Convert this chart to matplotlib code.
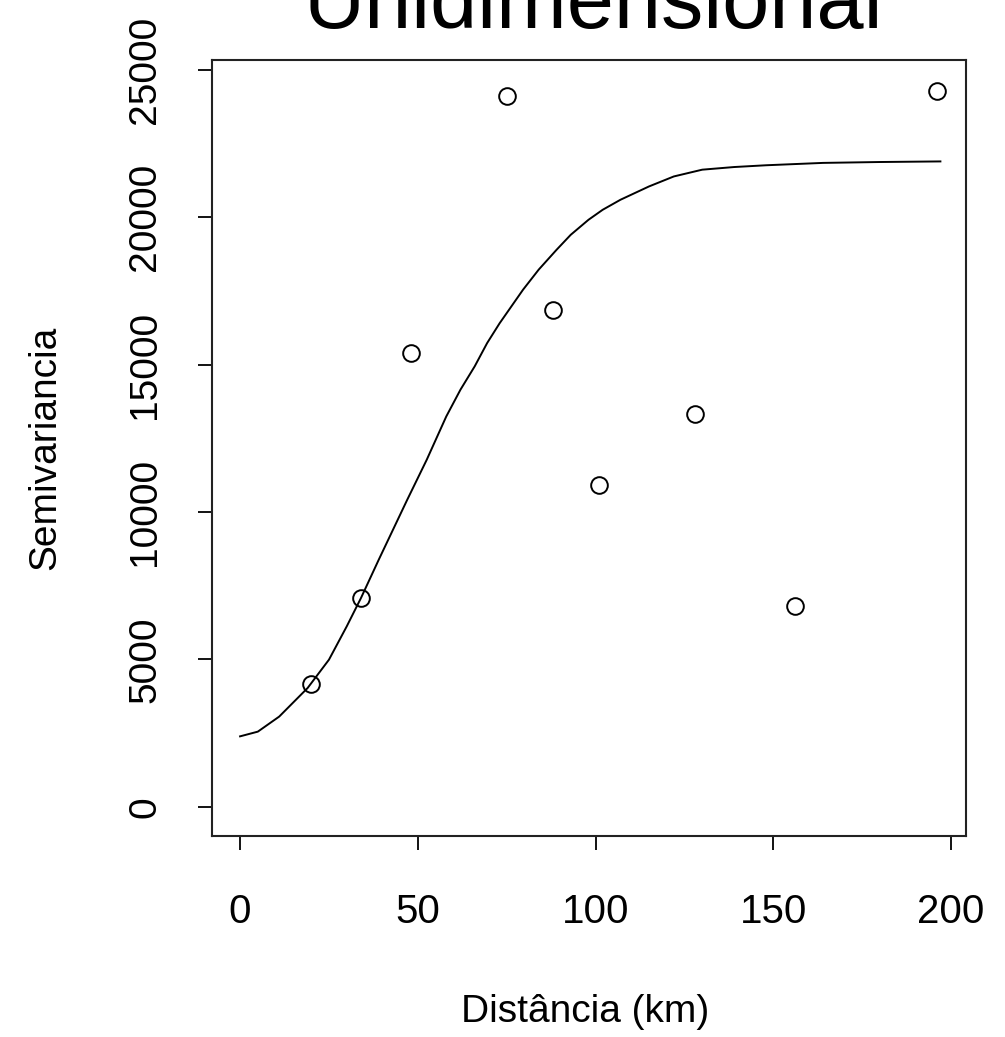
import matplotlib
matplotlib.use('Agg')
import matplotlib.pyplot as plt

plt.rcParams['font.family'] = ['Liberation Sans', 'DejaVu Sans']

# empirical semivariogram (lag distance in km, semivariance)
lag_km = [20, 34, 48, 75, 88, 101, 128, 156, 196]
semivariance = [4150, 7080, 15400, 24100, 16850, 10920, 13330, 6820, 24280]

# fitted model curve
model_km = [0, 5, 11, 19, 25, 30, 34, 39, 47, 52.5, 58, 62, 66, 69.5, 73, 79.6, 84, 89,
            93, 98, 102, 107, 115, 122, 130, 139, 148, 164, 180, 197]
model_gamma = [2390, 2550, 3060, 4030, 4990, 6120, 7080, 8380, 10410, 11770, 13240, 14150,
               14940, 15730, 16400, 17540, 18220, 18890, 19400, 19910, 20250, 20590, 21040,
               21380, 21610, 21700, 21760, 21840, 21870, 21890]

x_ticks = [0, 50, 100, 150, 200]
y_ticks = [0, 5000, 10000, 15000, 20000, 25000]

W, H = 1005, 1037
fig = plt.figure(figsize=(W / 100, H / 100), dpi=100)
ax = fig.add_axes([212 / W, 1 - 836 / H, (966 - 212) / W, (836 - 60) / H])

ax.plot(model_km, model_gamma, color='black', lw=1.4)
ax.plot(lag_km, semivariance, 'o', ms=12, mfc='none', mec='black', mew=1.4)

ax.set_xlim(-7.9, 204.2)
ax.set_ylim(-990, 25330)

ax.set_xticks(x_ticks)
ax.set_xticklabels([str(v) for v in x_ticks])
ax.set_yticks(y_ticks)
ax.set_yticklabels([str(v) for v in y_ticks], rotation=90, va='center')
ax.tick_params(direction='out', length=10, width=1.3, labelsize=28)
ax.tick_params(axis='x', pad=31, labelsize=29)
ax.tick_params(axis='y', pad=25)

for s in ax.spines.values():
    s.set_linewidth(1.5)
    s.set_color('#222222')

# title sits partly above the figure edge, as in the original
fig.text(593 / W, 1 - 28 / H, 'Unidimensional', ha='center', va='baseline', fontsize=61)
fig.text(585 / W, 1 - 1012 / H, 'Distância (km)', ha='center', va='center', fontsize=28)
fig.text(45 / W, 1 - 448 / H, 'Semivariancia', ha='center', va='center', rotation=90, fontsize=28)

fig.savefig('out.png', dpi=100)
